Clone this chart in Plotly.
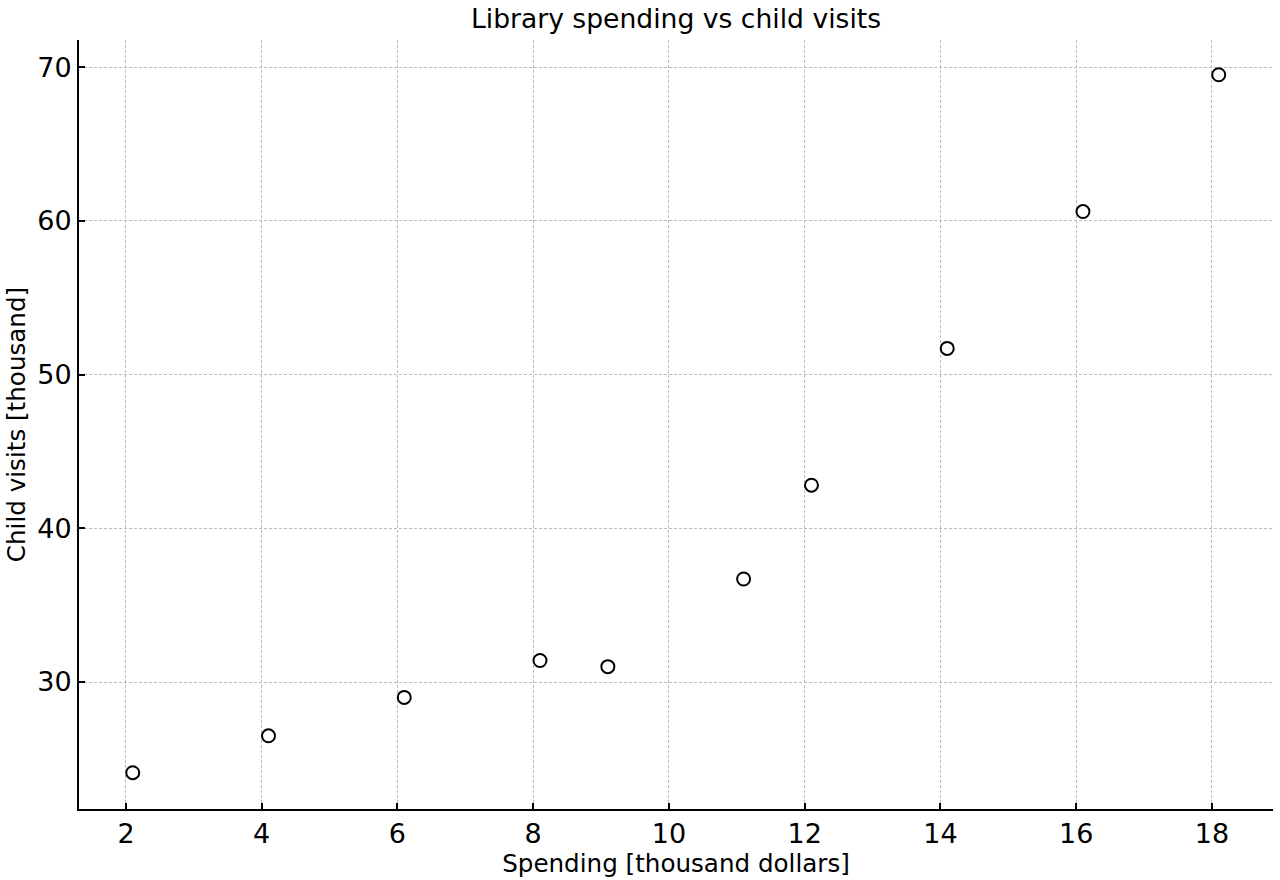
import plotly.graph_objects as go

spending = [2.1, 4.1, 6.1, 8.1, 9.1, 11.1, 12.1, 14.1, 16.1, 18.1]
child_visits = [24.1, 26.5, 29.0, 31.4, 31.0, 36.7, 42.8, 51.7, 60.6, 69.5]

fig = go.Figure()
fig.add_trace(go.Scatter(
    x=spending, y=child_visits, mode="markers",
    marker=dict(symbol="circle-open", size=13, color="black", line=dict(width=2, color="black")),
    showlegend=False,
))

axis_common = dict(
    showline=True, linecolor="black", linewidth=2, mirror=False,
    ticks="inside", ticklen=6, tickwidth=2, tickcolor="black",
    showgrid=True, gridcolor="#bcbcbc", griddash="3px,2px", gridwidth=1,
    zeroline=False, automargin=False,
    tickfont=dict(family="DejaVu Sans", size=27, color="black"),
)

fig.update_layout(
    width=1280, height=880,
    paper_bgcolor="white", plot_bgcolor="white",
    font=dict(family="DejaVu Sans", color="black"),
    margin=dict(l=79, r=7, t=40, b=71),
    title=dict(text="Library spending vs child visits", x=0.5, xref="paper", xanchor="center",
               y=1 - 19/880, yanchor="middle",
               font=dict(family="DejaVu Sans", size=26.6, color="black")),
    xaxis=dict(range=[1.308, 18.9], dtick=2, tick0=0,
               title=dict(text="Spending [thousand dollars]", standoff=2,
                          font=dict(family="DejaVu Sans", size=24.6, color="black")),
               **axis_common),
    yaxis=dict(range=[21.74, 71.76], dtick=10, tick0=0,
               title=dict(text="Child visits [thousand]", standoff=5,
                          font=dict(family="DejaVu Sans", size=24.6, color="black")),
               **axis_common),
)

fig.write_html("out.html")
